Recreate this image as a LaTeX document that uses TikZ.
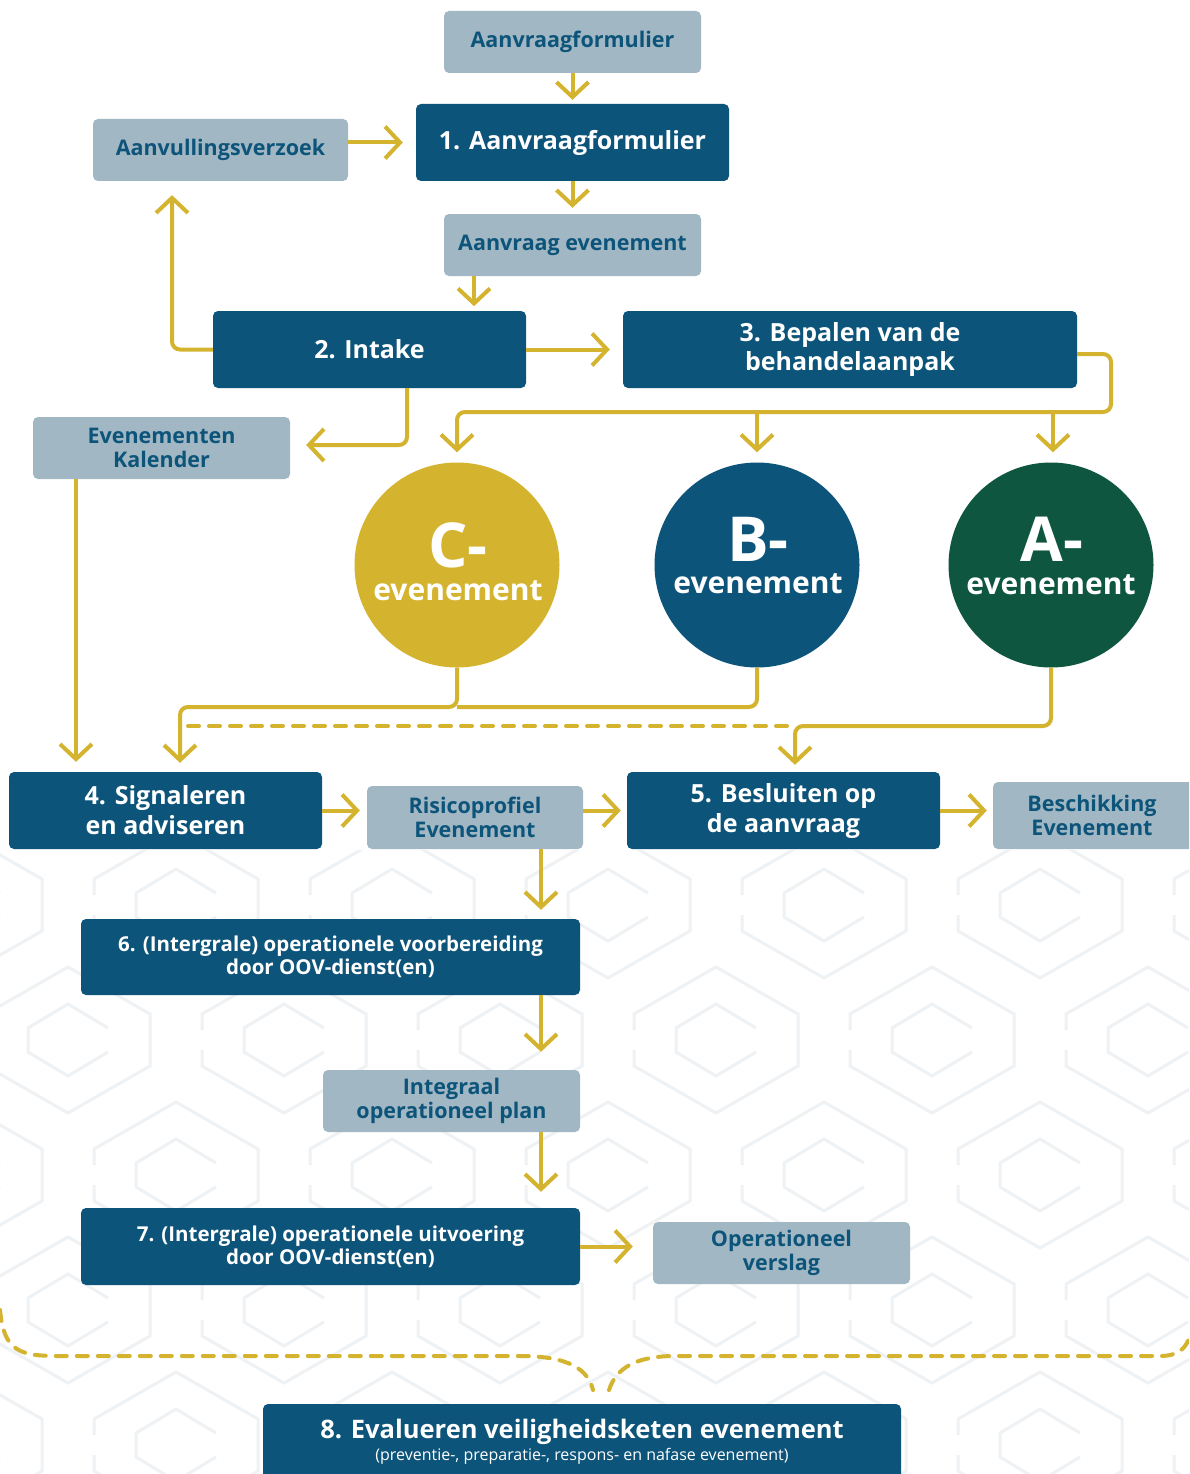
\documentclass[tikz,border=0pt]{standalone}
\usepackage{fontspec}
\setmainfont{Open Sans}
\usetikzlibrary{arrows.meta}
\definecolor{dblue}{RGB}{13,84,122}
\definecolor{lgrey}{RGB}{161,183,195}
\definecolor{ygold}{RGB}{212,179,47}
\definecolor{dgreen}{RGB}{14,86,64}
\definecolor{hexgrey}{RGB}{238,242,245}
\tikzset{
  darkbox/.style={fill=dblue, rounded corners=5pt, text=white, align=center, inner sep=0pt,
    font=\bfseries\fontsize{25}{30}\selectfont},
  lightbox/.style={fill=lgrey, rounded corners=5pt, text=dblue, align=center, inner sep=0pt,
    font=\bfseries\fontsize{21.5}{24.5}\selectfont},
  circ/.style={circle, minimum size=205, inner sep=0pt},
  bigletter/.style={text=white, inner sep=0pt, font=\bfseries\fontsize{62}{64}\selectfont},
  evtext/.style={text=white, inner sep=0pt, font=\bfseries\fontsize{30}{32}\selectfont},
  conn/.style={draw=ygold, line width=4pt, rounded corners=8pt, -{Straight Barb[length=15pt,width=32pt]}},
  plainline/.style={draw=ygold, line width=4pt, rounded corners=8pt},
  dashline/.style={draw=ygold, line width=4pt, dash pattern=on 11pt off 10pt, line cap=round},
  hexline/.style={draw=hexgrey, line width=3pt, line join=miter},
}
\begin{document}
\begin{tikzpicture}[x=1pt,y=-1pt]
\useasboundingbox (0,0) rectangle (1189,1474);
\clip (0,0) rectangle (1189,1474);
\fill[white] (0,0) rectangle (1189,1474);

% faint background pattern
\begin{scope}
\clip (0,850) rectangle (1189,1474);
\foreach \r in {0,...,4}{
  \foreach \c in {0,...,6}{
    \pgfmathsetmacro{\cx}{-40+216*\c+mod(\r,2)*108}
    \pgfmathsetmacro{\cy}{905+135*\r}
    \begin{scope}[shift={(\cx,\cy)}]
      \draw[hexline] (-82,-10) -- (-82,-26) -- (0,-73) -- (82,-26) -- (82,26) -- (0,73) -- (-82,26) -- (-82,10);
      \draw[hexline] (40,-12) -- (0,-36) -- (-40,-12) -- (-40,12) -- (0,36) -- (40,12);
    \end{scope}
  }
}
\end{scope}

% boxes
\node[lightbox, minimum width=257, minimum height=62] (top) at (572.5,42) {Aanvraagformulier};
\node[darkbox, minimum width=313, minimum height=77] (n1) at (572.5,142.5) {1. Aanvraagformulier};
\node[lightbox, minimum width=255, minimum height=62] (aanv) at (220.5,150) {Aanvullingsverzoek};
\node[lightbox, minimum width=257, minimum height=62] (aev) at (572.5,245) {Aanvraag evenement};
\node[darkbox, minimum width=313, minimum height=77] (n2) at (369.5,349.5) {2. Intake};
\node[darkbox, minimum width=454, minimum height=77, font=\bfseries\fontsize{25}{29}\selectfont] (n3) at (850,349.5) {3. Bepalen van de\\behandelaanpak};
\node[lightbox, minimum width=257, minimum height=62] (kal) at (161.5,448) {Evenementen\\Kalender};

\node[circ, fill=ygold] (C) at (457,565) {};
\node[circ, fill=dblue] (B) at (757,565) {};
\node[circ, fill=dgreen] (A) at (1051,565) {};
\node[bigletter] (Cl) at (458,545) {C-};
\node[evtext] (Ce) at (458,591) {evenement};
\node[bigletter] (Bl) at (758,539) {B-};
\node[evtext] (Be) at (758,584) {evenement};
\node[bigletter] (Al) at (1052,539) {A-};
\node[evtext] (Ae) at (1051,585) {evenement};

\node[darkbox, minimum width=313, minimum height=77] (n4) at (165.5,810.5) {4. Signaleren\\en adviseren};
\node[lightbox, minimum width=216, minimum height=63] (risk) at (475,817.5) {Risicoprofiel\\Evenement};
\node[darkbox, minimum width=313, minimum height=77] (n5) at (783.5,810.5) {5. Besluiten op\\de aanvraag};
\node[lightbox, minimum width=210, minimum height=67] (besch) at (1098,815.5) {\hspace*{-12pt}Beschikking\\\hspace*{-12pt}Evenement};
\node[darkbox, minimum width=499, minimum height=76, font=\bfseries\fontsize{20.5}{23}\selectfont] (n6) at (330.5,957) {6. (Intergrale) operationele voorbereiding\\door OOV-dienst(en)};
\node[lightbox, minimum width=257, minimum height=62] (plan) at (451.5,1101) {Integraal\\operationeel plan};
\node[darkbox, minimum width=499, minimum height=77, font=\bfseries\fontsize{20.5}{23}\selectfont] (n7) at (330.5,1246.5) {7. (Intergrale) operationele uitvoering\\door OOV-dienst(en)};
\node[lightbox, minimum width=257, minimum height=62] (verslag) at (781.5,1253) {Operationeel\\verslag};
\node[darkbox, minimum width=638, minimum height=100] (n8) at (582,1454) {};
\node[text=white, inner sep=0pt, font=\bfseries\fontsize{25.5}{28}\selectfont] (n8a) at (582,1432) {8. Evalueren veiligheidsketen evenement};
\node[text=white, inner sep=0pt, font=\fontsize{16}{18}\selectfont] (n8b) at (582,1456) {(preventie-, preparatie-, respons- en nafase evenement)};

% connectors
\draw[conn] (top.south) -- ([yshift=4pt]n1.north);
\draw[conn] (n1.south) -- ([yshift=6pt]aev.north);
\draw[conn] (aanv.east |- n1.west) -- ([xshift=-13pt]n1.west);
\draw[conn] ([xshift=-98.5pt]aev.south) -- ++(0,30);
\draw[conn] (n2.west) -| ([xshift=-48.5pt,yshift=-14pt]aanv.south);
\draw[conn] (n2.east) -- ([xshift=-13pt]n3.west);
\draw[conn] ([xshift=37.5pt]n2.south) |- ([xshift=16pt,yshift=3pt]kal.east);

\coordinate (bus) at (0,412);
\coordinate (bus2) at (0,707);
\coordinate (bus3) at (0,726);
\draw[conn] ([yshift=-4.5pt]n3.east) -| (1111,412) -- (C.north |- bus) -- ([yshift=10pt]C.north);
\draw[conn] (B.north |- bus) -- ([yshift=10pt]B.north);
\draw[conn] ([xshift=2pt]A.north |- bus) -- ([xshift=2pt,yshift=10pt]A.north);

\draw[conn] ([xshift=-85.5pt]kal.south) -- ([xshift=-89.5pt,yshift=10pt]n4.north);
\draw[plainline] (B.south) |- (C.south |- bus2);
\draw[conn] (C.south) |- ([xshift=14.5pt]n4.north |- bus2) -- ([xshift=14.5pt,yshift=9pt]n4.north);
\draw[dashline] (188,726) -- (790,726);
\draw[conn] (A.south) |- ([xshift=11.5pt]n5.north |- bus3) -- ([xshift=11.5pt,yshift=7pt]n5.north);

\draw[conn] (n4.east) -- ([xshift=-7pt]risk.west |- n4.east);
\draw[conn] (risk.east |- n5.west) -- ([xshift=-6pt]n5.west);
\draw[conn] (n5.east) -- ([xshift=-6pt]besch.west |- n5.east);
\draw[conn] ([xshift=66pt]risk.south) -- ([xshift=210.5pt,yshift=9pt]n6.north);
\draw[conn] ([xshift=210.5pt]n6.south) -- ([xshift=89.5pt,yshift=18pt]plan.north);
\draw[conn] ([xshift=89.5pt]plan.south) -- ([xshift=210.5pt,yshift=16pt]n7.north);
\draw[conn] (n7.east) -- ([xshift=-20pt]verslag.west |- n7.east);

% bottom brace
\draw[dashline] (0,1310) .. controls (4,1352) and (20,1356) .. (60,1356) -- (520,1356)
  .. controls (570,1356) and (588,1370) .. (593,1390);
\draw[dashline] (609,1390) .. controls (616,1368) and (636,1356) .. (675,1356) -- (1160,1356)
  .. controls (1178,1356) and (1186,1348) .. (1189,1338);
\end{tikzpicture}
\end{document}
